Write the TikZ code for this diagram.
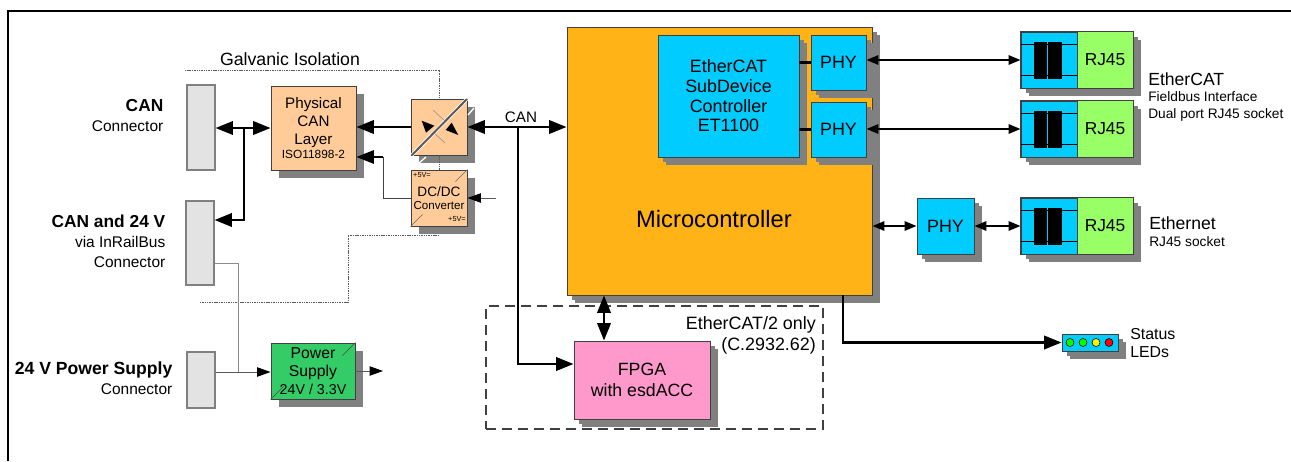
\documentclass[tikz,border=0pt]{standalone}
\usepackage{fontspec}
\setmainfont{Liberation Sans}
\usetikzlibrary{arrows.meta,shadows}

\begin{document}
\begin{tikzpicture}[x=0.75pt,y=-0.75pt,
  thick line/.style={line width=1.8pt,{Triangle[length=13pt,width=10pt]}-{Triangle[length=13pt,width=10pt]}},
  short line/.style={line width=1.6pt,{Triangle[length=9pt,width=7pt]}-{Triangle[length=9pt,width=7pt]}},
  one way/.style={line width=1.8pt,-{Triangle[length=13pt,width=10pt]}},
  thin way/.style={line width=0.7pt,draw=black!65,-{Triangle[black,length=10pt,width=7pt]}},
  feed line/.style={line width=0.6pt,draw=black!45},
  isolation/.style={line width=0.7pt,dash pattern=on 0.8pt off 0.5pt,draw=black!65},
  block/.style={draw=black!75,line width=0.7pt,inner sep=0pt,align=center,font=\fontsize{11.4pt}{13.5pt}\selectfont,
    drop shadow={shadow xshift=6pt,shadow yshift=-6pt,fill=black!50,opacity=1}},
  small block/.style={block,font=\fontsize{13.4pt}{14.8pt}\selectfont,drop shadow={shadow xshift=3.5pt,shadow yshift=-3.5pt,fill=black!50,opacity=1}},
  connector/.style={draw=black!50,fill=black!11,line width=0.8pt,minimum width=21pt},
  caption/.style={align=right,anchor=east,font=\fontsize{11.6pt}{15pt}\selectfont},
  note/.style={align=left,anchor=west,inner sep=0pt,font=\fontsize{10.3pt}{12.5pt}\selectfont},
  led/.style={circle,draw=black,line width=0.4pt,minimum size=6pt,inner sep=0pt}]

    \definecolor{peach_block}{HTML}{FFCC99}
    \definecolor{orange_block}{HTML}{FFB316}
    \definecolor{cyan_block}{HTML}{00CCFF}
    \definecolor{lime_block}{HTML}{99FF66}
    \definecolor{green_block}{HTML}{33CC66}
    \definecolor{pink_block}{HTML}{FF99CC}

  \useasboundingbox (0,0) rectangle (1291,461);

  % Outer frame

  \draw[line width=1.5pt] (8,461) -- (8,11) -- (1291,11);

  % Dashed option area

  \node[draw=black!75,line width=0.8pt,dash pattern=on 7.5pt off 4.5pt,minimum width=252.75pt,minimum height=92.25pt,inner sep=0pt] (option) at (654.5,367.5) {};

  % Connectors on the left

  \node[connector,minimum height=63.75pt] (can) at (201,127.5) {};
  \node[connector,minimum height=63pt] (inrail) at (200,243) {};
  \node[connector,minimum height=42pt] (supply) at (201,380) {};

  \node[caption] (cantext) at (168,116) {{\bfseries\fontsize{13pt}{15pt}\selectfont CAN}\\Connector};
  \node[caption] (inrailtext) at (170,241) {{\bfseries\fontsize{13pt}{15pt}\selectfont CAN and 24 V}\\via InRailBus\\Connector};
  \node[caption] (supplytext) at (177,378) {{\bfseries\fontsize{13.2pt}{15pt}\selectfont 24 V Power Supply}\\Connector};

  % CAN side blocks

  \node[block,fill=peach_block,minimum width=63.75pt,minimum height=63pt] (phys) at (313.5,128) {Physical\\CAN\\Layer\\[-3pt]{\fontsize{8.9pt}{9pt}\selectfont ISO11898-2}};
  \node[block,fill=peach_block,minimum width=42pt,minimum height=42pt] (iso) at (439,127) {};
  \node[block,fill=peach_block,minimum width=42pt,minimum height=42pt,font=\fontsize{10.2pt}{10pt}\selectfont] (dcdc) at (439,198) {DC/DC\\{\fontsize{8.7pt}{8pt}\selectfont Converter}};
  \node[block,fill=green_block,minimum width=63pt,minimum height=42pt,font=\fontsize{11.8pt}{13.5pt}\selectfont] (power) at (313,371) {Power\\Supply\\{\fontsize{10.7pt}{11pt}\selectfont 24V / 3.3V}};

  \draw[black!60,line width=0.5pt] (dcdc.north east) -- ++(-12,12);
  \draw[black!60,line width=0.5pt] (dcdc.south west) -- ++(12,-12);
  \draw[black!70,line width=0.5pt] (power.north east) -- ++(-13,13);
  \draw[black!70,line width=0.5pt] (power.south west) -- ++(13,-13);
  \node[font=\fontsize{5.5pt}{6pt}\selectfont] (fivea) at (422,175) {+5V=};
  \node[font=\fontsize{5.5pt}{6pt}\selectfont] (fiveb) at (457,219) {+5V=};

  % Isolating transceiver

  \draw[white,line width=1pt] (419,163) -- (426,157);
  \draw[white,line width=1pt] (468,115) -- (474,108);
  \draw[black!45,line width=0.4pt] (433,110) -- (446,122);
  \draw[black!45,line width=0.4pt] (433,132) -- (445,143);
  \draw[white,line width=2.6pt] (412,155) -- (467,99);
  \draw[black!65,line width=1.5pt] (412,155) -- (467,99);
  \fill[black] (421.7,120.7) -- (434.3,125.7) -- (426,132.7) -- cycle;
  \fill[black] (458.3,135) -- (445.7,130) -- (451.7,122.7) -- cycle;

  % Microcontroller and its parts

  \node[small block,fill=orange_block,minimum width=228.75pt,minimum height=201pt] (mcu) at (719.5,161) {};
  \node[font=\fontsize{17.8pt}{20pt}\selectfont] (mcutext) at (714,219) {Microcontroller};
  \node[small block,fill=cyan_block,minimum width=105.75pt,minimum height=91.5pt] (esc) at (728.5,96) {EtherCAT\\SubDevice\\Controller\\ET1100};
  \node[small block,fill=cyan_block,minimum width=41.25pt,minimum height=41.25pt] (phya) at (838.5,62.5) {PHY};
  \node[small block,fill=cyan_block,minimum width=41.25pt,minimum height=41.25pt] (phyb) at (838.5,129.5) {PHY};
  \node[small block,fill=cyan_block,minimum width=42.75pt,minimum height=42pt] (phyc) at (945.5,226) {PHY};

  \node[small block,fill=pink_block,minimum width=102pt,minimum height=58.5pt,font=\fontsize{13.3pt}{15.5pt}\selectfont] (fpga) at (642,380) {FPGA\\with esdACC};
  \node[align=right,anchor=north east,inner sep=0pt,font=\fontsize{13.4pt}{16pt}\selectfont] (onlytext) at (816,316) {EtherCAT/2 only\hspace{4pt}\\(C.2932.62)};

  % RJ45 sockets

  \foreach \name/\ypos in {rja/60,rjb/129,rjc/226}{
    \node[small block,fill=cyan_block,minimum width=84pt,minimum height=42pt] (\name) at (1077,\ypos) {};
    \fill[lime_block] (\name.north) rectangle (\name.south east);
    \draw[black!75,line width=0.7pt] (\name.north) -- (\name.south);
    \draw[black!75,line width=0.7pt] (\name.north west) rectangle (\name.south east);
    \draw[black,line width=0.5pt] ([yshift=-11.5pt]\name.west) -- ([yshift=-11.5pt]\name.center);
    \draw[black,line width=0.5pt] ([yshift=11.5pt]\name.west) -- ([yshift=11.5pt]\name.center);
    \fill[black] (1034,\ypos-18) rectangle (1047,\ypos+19);
    \fill[black] (1048,\ypos-18) rectangle (1062,\ypos+19);
    \node[font=\fontsize{13pt}{13pt}\selectfont] (\name text) at (1105,\ypos) {RJ45};
  }

  \node[note] (ecattext) at (1148,97) {{\fontsize{13.2pt}{14pt}\selectfont EtherCAT}\\Fieldbus Interface\\Dual port RJ45 socket};
  \node[note] (ethtext) at (1149,232) {{\fontsize{13.2pt}{14pt}\selectfont Ethernet}\\RJ45 socket};

  % Status LEDs

  \node[small block,fill=cyan_block,minimum width=42pt,minimum height=12.75pt] (leds) at (1090,342.5) {};
  \node[led,fill=green] (leda) at (1070,342.5) {};
  \node[led,fill=green] (ledb) at (1083,342.5) {};
  \node[led,fill=yellow] (ledc) at (1096,342.5) {};
  \node[led,fill=red] (ledd) at (1109,342.5) {};
  \node[note,font=\fontsize{11.9pt}{13pt}\selectfont] (ledtext) at (1130,343) {Status\\LEDs};

  % Isolation boundary

  \coordinate (isostart) at (185,70);
  \coordinate (isotop) at (439,70);
  \coordinate (isolow) at (439,235);
  \coordinate (isobend) at (348,235);
  \coordinate (isoend) at (200,302);

  \draw[isolation] (isostart) -- (isotop) -- (iso.north);
  \draw[isolation] (iso.south) -- (dcdc.north);
  \draw[isolation] (isolow) -- (isobend) |- (isoend);
  \node[font=\fontsize{13.3pt}{14pt}\selectfont] (isotext) at (290,59.5) {Galvanic Isolation};

  % Connections

  \coordinate (busjoin) at (244,127);
  \coordinate (canjoin) at (518,127);
  \coordinate (railjoin) at (238,372);
  \coordinate (dcturn) at (383,157);
  \coordinate (dcfeed) at (496,198);
  \coordinate (powerout) at (383,371);

  \draw[thick line] (can.east |- phys.west) -- (phys.west);
  \draw[one way] (busjoin) |- (inrail.east |- 0,220);
  \draw[one way] (iso.west) -- (phys.east |- iso.west);
  \draw[thick line] (iso.east) -- node[above=-1pt,pos=0.54,font=\fontsize{11.4pt}{12pt}\selectfont] (cantop) {CAN} (mcu.west |- iso.east);
  \draw[one way] (canjoin) |- (fpga.west |- 0,364);
  \draw[thick line] (mcu.south -| 604,0) -- (fpga.north -| 604,0);
  \draw[one way] (mcu.south -| 843,0) |- (leds.west);

  \draw[line width=0.7pt,black!75] (dcdc.west) -| (dcturn);
  \draw[one way,line width=1.2pt] (dcturn) -- (phys.east |- dcturn);
  \draw[thin way] (dcfeed) -- (dcdc.east);

  \draw[feed line] (inrail.east |- 0,263) -| (railjoin);
  \draw[thin way] (supply.east |- railjoin) -- (power.west |- railjoin);
  \draw[thin way] (power.east) -- (powerout);

  \draw[line width=1.8pt] (esc.east |- phya) -- (phya.west);
  \draw[line width=1.8pt] (esc.east |- phyb) -- (phyb.west);
  \draw[short line] (phya.east |- rja.west) -- (rja.west);
  \draw[short line] (phyb.east |- rjb.west) -- (rjb.west);
  \draw[short line] (mcu.east |- phyc.west) -- (phyc.west);
  \draw[short line] (phyc.east) -- (rjc.west);

\end{tikzpicture}
\end{document}
